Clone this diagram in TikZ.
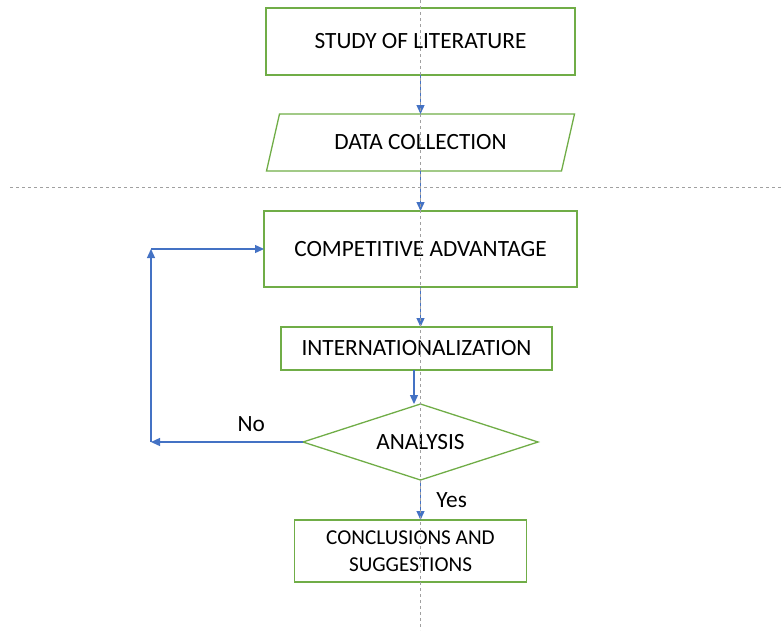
\documentclass[tikz,border=0pt]{standalone}
\usepackage{fontspec}
\setmainfont{Carlito}
\usetikzlibrary{positioning}
\usetikzlibrary{shapes.geometric}
\usetikzlibrary{arrows.meta}

\definecolor{boxgreen}{RGB}{112,173,71}
\definecolor{flowblue}{RGB}{68,114,196}
\definecolor{guidegray}{RGB}{160,160,160}

\begin{document}
\begin{tikzpicture}[
                x=1pt, y=-1pt,
                font=\fontsize{23.3}{27}\selectfont,
                >={Triangle[length=9pt,width=8pt]},
                stepbox/.style={rectangle, draw=boxgreen, line width=1.3pt, inner sep=0pt, outer sep=0pt},
                iobox/.style={rectangle, inner sep=0pt, outer sep=0pt, minimum width=308pt, minimum height=57pt},
                decision/.style={diamond, aspect=3.1, draw=boxgreen, line width=1.3pt, inner sep=0pt, outer sep=0pt, minimum width=235pt, minimum height=76pt},
                flow/.style={->, draw=flowblue, fill=flowblue, line width=1.3pt},
                guide/.style={draw=guidegray, dashed, line width=0.9pt},
            ]
            \useasboundingbox (0,0) rectangle (781,630);

            % Nodes
            \node[stepbox, minimum width=309pt, minimum height=67pt] (study) at (420.5,41.5) {STUDY OF LITERATURE};
            \node[iobox]            (data)     [below=39pt of study]      {DATA COLLECTION};
            \node[stepbox, minimum width=313pt, minimum height=76pt] (competitive) [below=40pt of data] {COMPETITIVE ADVANTAGE};
            \node[stepbox, minimum width=271pt, minimum height=43pt] (intl) [below=40pt of competitive, xshift=-4pt] {INTERNATIONALIZATION};
            \node[decision]         (analysis) [below=34pt of intl, xshift=4pt] {ANALYSIS};
            \node[stepbox, minimum width=232pt, minimum height=62pt, align=center, font=\fontsize{21.2}{27}\selectfont] (conclusions) [below=40pt of analysis, xshift=-10pt] {CONCLUSIONS AND\\SUGGESTIONS};

            % parallelogram round the data node
            \draw[draw=boxgreen, line width=1.3pt] ([xshift=13pt]data.north west) -- (data.north east)
                -- ([xshift=-13pt]data.south east) -- (data.south west) -- cycle;

            \coordinate[left=152pt of analysis.west] (back_low);
            \coordinate (back_high) at (back_low |- competitive.west);

            %Lines
            \draw[flow] (study.south) -- (data.north);
            \draw[flow] (data.south) -- (competitive.south |- data.south) -- (competitive.north);
            \draw[flow] (competitive.south) -- (competitive.south |- intl.north);
            \draw[flow] ([xshift=-2.5pt]intl.south) -- ([xshift=-2.5pt]intl.south |- analysis.north);
            \draw[flow] (analysis.south) -- node[right=12pt, text=black] {Yes} (analysis.south |- conclusions.north);
            \draw[flow] (analysis.west) -- node[above=6pt, pos=0.34, text=black] {No} (back_low);
            \draw[flow] (back_low) -- (back_high);
            \draw[flow] (back_high) -- (competitive.west);

            % guide lines
            \draw[guide] (10,187) -- (781,187);
            \draw[guide] (420,0) -- (420,630);
        \end{tikzpicture}
\end{document}
